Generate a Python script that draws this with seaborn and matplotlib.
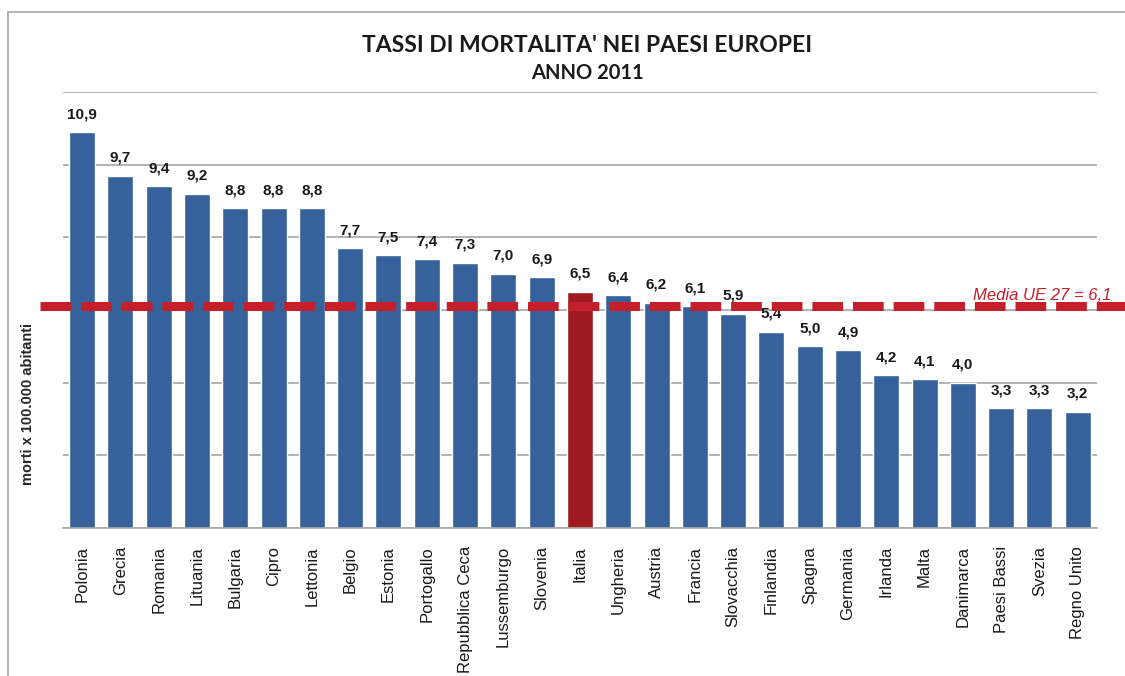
import matplotlib
matplotlib.use('Agg')
import matplotlib.pyplot as plt
import seaborn as sns
import pandas as pd
from matplotlib.lines import Line2D

# data
paesi = ['Polonia', 'Grecia', 'Romania', 'Lituania', 'Bulgaria', 'Cipro', 'Lettonia',
         'Belgio', 'Estonia', 'Portogallo', 'Repubblica Ceca', 'Lussemburgo', 'Slovenia',
         'Italia', 'Ungheria', 'Austria', 'Francia', 'Slovacchia', 'Finlandia', 'Spagna',
         'Germania', 'Irlanda', 'Malta', 'Danimarca', 'Paesi Bassi', 'Svezia', 'Regno Unito']
tassi = [10.9, 9.7, 9.4, 9.2, 8.8, 8.8, 8.8,
         7.7, 7.5, 7.4, 7.3, 7.0, 6.9,
         6.5, 6.4, 6.2, 6.1, 5.9, 5.4, 5.0,
         4.9, 4.2, 4.1, 4.0, 3.3, 3.3, 3.2]
media_ue = 6.1

df = pd.DataFrame({'paese': paesi, 'tasso': tassi})

blu = '#36619A'
rosso_italia = '#9E1B20'
rosso_media = '#C4202B'
palette = {p: (rosso_italia if p == 'Italia' else blu) for p in paesi}

sns.set_style('white')
plt.rcParams['font.family'] = ['Liberation Sans', 'DejaVu Sans']

fig = plt.figure(figsize=(11.25, 6.76), dpi=100)
ax = fig.add_axes([0.056, 0.219, 0.919, 0.645])

sns.barplot(data=df, x='paese', y='tasso', hue='paese', palette=palette,
            legend=False, width=0.68, saturation=1, ax=ax, zorder=2)

ax.set_ylim(0, 12)
ax.set_xlim(-0.5, len(paesi) - 0.5)
ax.set_yticks([0, 2, 4, 6, 8, 10, 12])
ax.set_yticklabels([])
ax.yaxis.grid(True, color='#a6a6a6', linewidth=1.2, zorder=0)
ax.set_axisbelow(True)
for s in ['top', 'right', 'left']:
    ax.spines[s].set_visible(False)
ax.spines['bottom'].set_color('#a6a6a6')
ax.spines['bottom'].set_linewidth(1.2)
ax.tick_params(axis='y', length=0)

# tick marks between categories
ax.set_xticks(range(len(paesi)))
ax.set_xticklabels(paesi, rotation=90, fontsize=12, color='#1a1a1a', va='top')
ax.set_xticks([i - 0.5 for i in range(len(paesi) + 1)], minor=True)
ax.tick_params(axis='x', which='major', length=0, pad=13)
ax.tick_params(axis='x', which='minor', length=6, color='#a6a6a6', width=1.2)
ax.set_xlabel('')
ax.set_ylabel('morti x 100.000 abitanti', fontsize=10.5, fontweight='bold')
ax.yaxis.set_label_coords(-0.027, 0.284)

# value labels
for i, v in enumerate(tassi):
    ax.text(i, v + 0.3, f'{v:.1f}'.replace('.', ','), ha='center', va='bottom',
            fontsize=11, fontweight='bold', color='#1a1a1a',
            family=['Liberation Sans Narrow', 'Liberation Sans'], zorder=3)

# average line
ax.plot([-1.1, 27.6], [media_ue, media_ue], color=rosso_media, linewidth=6.5,
        dashes=(3.4, 1.1), clip_on=False, zorder=5, solid_capstyle='butt',
        dash_capstyle='butt')
fig.text(0.988, 0.552, 'Media UE 27 = 6,1', ha='right', va='bottom',
         fontsize=12, style='italic', color=rosso_media, zorder=6)

fig.text(0.522, 0.933, "TASSI DI MORTALITA' NEI PAESI EUROPEI", ha='center', va='center',
         fontsize=16.5, fontweight='bold', color='#1a1a1a', family=['Lato', 'DejaVu Sans'])
fig.text(0.522, 0.892, 'ANNO 2011', ha='center', va='center',
         fontsize=14.5, fontweight='bold', color='#1a1a1a', family=['Lato', 'DejaVu Sans'])

# outer chart frame (left and top edges visible)
fig.lines.append(Line2D([0.0075, 0.0075], [0.0, 0.982], transform=fig.transFigure,
                        color='#a6a6a6', linewidth=1.2))
fig.lines.append(Line2D([0.0075, 1.0], [0.982, 0.982], transform=fig.transFigure,
                        color='#a6a6a6', linewidth=1.2))

fig.savefig('out.png', dpi=100)
